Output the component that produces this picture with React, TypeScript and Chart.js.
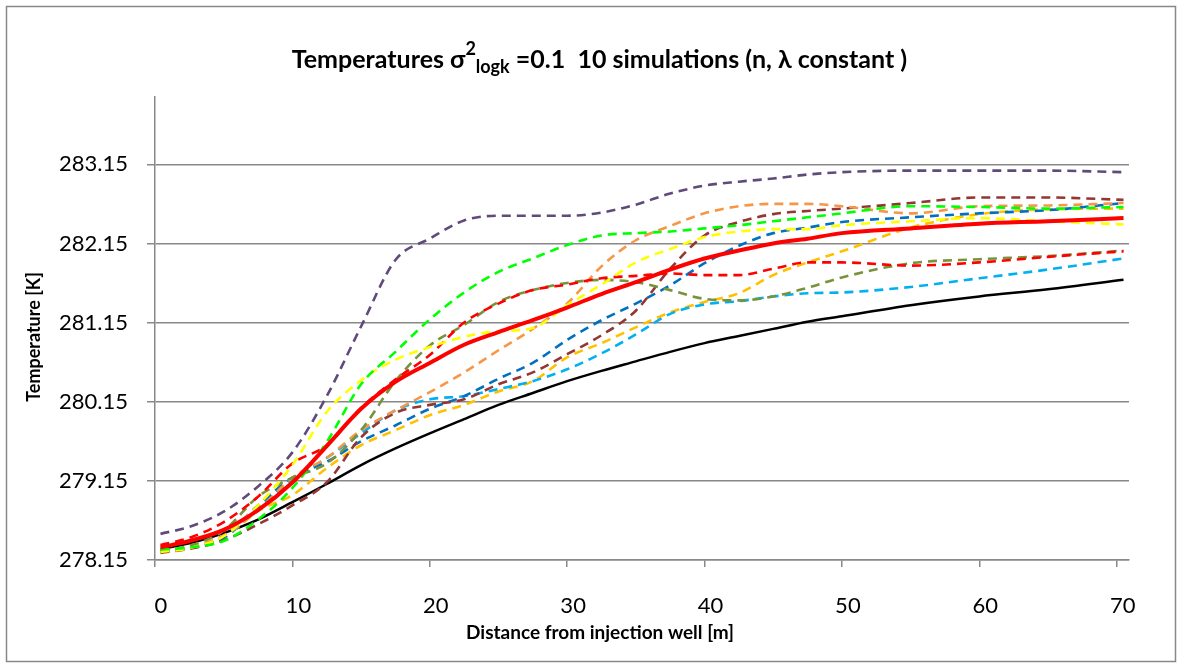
import React, { useEffect, useRef } from "react";
import { Chart, registerables } from "chart.js";

Chart.register(...registerables);

const xValues = [0.4, 2.5, 5, 7.5, 10, 12.5, 15, 17.5, 20, 22.5, 25, 27.5, 30, 32.5, 35, 37.5, 40, 42.5, 45, 47.5, 50, 55, 60, 65, 70.5];

const simPurple = [278.48, 278.57, 278.76, 279.08, 279.51, 280.22, 281.1, 281.94, 282.21, 282.44, 282.5, 282.5, 282.5, 282.54, 282.64, 282.78, 282.88, 282.93, 282.97, 283.02, 283.05, 283.07, 283.07, 283.07, 283.05];
const simGreen = [278.28, 278.31, 278.39, 278.66, 279.06, 279.64, 280.37, 280.78, 281.19, 281.53, 281.79, 281.96, 282.13, 282.25, 282.28, 282.3, 282.34, 282.38, 282.43, 282.48, 282.53, 282.62, 282.61, 282.59, 282.61];
const simYellow = [278.25, 278.3, 278.45, 278.84, 279.35, 280.02, 280.42, 280.68, 280.84, 280.97, 281.04, 281.08, 281.37, 281.63, 281.91, 282.08, 282.23, 282.3, 282.33, 282.33, 282.38, 282.43, 282.47, 282.43, 282.39];
const simRed = [278.34, 278.43, 278.63, 278.95, 279.37, 279.6, 280.07, 280.43, 280.74, 281.15, 281.39, 281.56, 281.63, 281.71, 281.74, 281.77, 281.75, 281.75, 281.83, 281.91, 281.91, 281.87, 281.91, 281.98, 282.05];
const simOlive = [278.26, 278.33, 278.52, 278.95, 279.19, 279.37, 279.79, 280.41, 280.86, 281.12, 281.41, 281.56, 281.65, 281.69, 281.66, 281.56, 281.45, 281.43, 281.48, 281.59, 281.72, 281.9, 281.95, 281.99, 282.06];
const simOrange = [278.26, 278.31, 278.46, 278.78, 279.19, 279.44, 279.79, 280.04, 280.27, 280.52, 280.8, 281.07, 281.39, 281.86, 282.19, 282.37, 282.53, 282.62, 282.65, 282.65, 282.62, 282.53, 282.62, 282.63, 282.66];
const simBrown = [278.24, 278.29, 278.4, 278.6, 278.84, 279.13, 279.7, 280.01, 280.11, 280.18, 280.37, 280.52, 280.75, 280.99, 281.3, 281.83, 282.25, 282.42, 282.52, 282.56, 282.59, 282.66, 282.73, 282.73, 282.7];
const simBlue = [278.25, 278.3, 278.44, 278.84, 279.19, 279.39, 279.65, 279.85, 280.06, 280.22, 280.44, 280.64, 280.93, 281.18, 281.39, 281.62, 281.9, 282.12, 282.28, 282.35, 282.42, 282.48, 282.53, 282.57, 282.66];
const simLightBlue = [278.28, 278.3, 278.43, 278.81, 279.16, 279.44, 279.75, 280.04, 280.18, 280.22, 280.31, 280.41, 280.56, 280.76, 281.0, 281.26, 281.38, 281.42, 281.48, 281.52, 281.53, 281.6, 281.71, 281.82, 281.96];
const simGold = [278.26, 278.31, 278.43, 278.77, 278.97, 279.31, 279.6, 279.79, 279.98, 280.11, 280.28, 280.41, 280.71, 280.89, 281.09, 281.28, 281.41, 281.52, 281.75, 281.91, 282.05, 282.35, 282.52, 282.58, 282.59];
const meanSeries = [278.31, 278.39, 278.53, 278.78, 279.13, 279.59, 280.06, 280.4, 280.64, 280.87, 281.03, 281.18, 281.34, 281.51, 281.66, 281.82, 281.96, 282.06, 282.15, 282.21, 282.28, 282.34, 282.4, 282.43, 282.47];
const homogeneousSeries = [278.29, 278.36, 278.49, 278.66, 278.88, 279.11, 279.35, 279.56, 279.75, 279.93, 280.11, 280.26, 280.41, 280.54, 280.66, 280.78, 280.89, 280.98, 281.07, 281.16, 281.23, 281.37, 281.48, 281.57, 281.69];

const xTicks = [0, 10, 20, 30, 40, 50, 60, 70];
const yTicks = [278.15, 279.15, 280.15, 281.15, 282.15, 283.15];

const FONT = "Lato, 'Open Sans', sans-serif";
const GRID = "#888888";

const toPoints = (arr: number[]) => xValues.map((x, i) => ({ x, y: arr[i] }));

const dashed = (label: string, arr: number[], color: string) => ({
  label,
  data: toPoints(arr),
  borderColor: color,
  backgroundColor: color,
  borderWidth: 2.6,
  borderDash: [9, 6],
  pointRadius: 0,
  cubicInterpolationMode: "monotone" as const,
  fill: false,
});

const framePlugin = {
  id: "frame",
  beforeDraw(chart: any) {
    const ctx = chart.ctx;
    ctx.save();
    ctx.fillStyle = "#ffffff";
    ctx.fillRect(0, 0, chart.width, chart.height);
    ctx.strokeStyle = GRID;
    ctx.lineWidth = 1.5;
    ctx.strokeRect(6.5, 6.5, 1169, 655);
    ctx.restore();
  },
};

const textPlugin = {
  id: "texts",
  afterDraw(chart: any) {
    const ctx = chart.ctx;
    ctx.save();
    ctx.fillStyle = "#000";
    ctx.textBaseline = "alphabetic";
    ctx.textAlign = "left";
    const big = `bold 25px ${FONT}`;
    const small = `bold 18px ${FONT}`;
    const p1 = "Temperatures σ";
    const p2 = "2";
    const p3 = "logk";
    const p4 = " =0.1  10 simulations (n, λ constant )";
    ctx.font = big;
    const w1 = ctx.measureText(p1).width;
    const w4 = ctx.measureText(p4).width;
    ctx.font = small;
    const w2 = ctx.measureText(p2).width;
    const w3 = ctx.measureText(p3).width;
    const total = w1 + w2 + w3 + w4;
    let x = 599.5 - total / 2;
    ctx.font = big;
    ctx.fillText(p1, x, 68);
    x += w1;
    ctx.font = small;
    ctx.fillText(p2, x, 55);
    x += w2;
    ctx.fillText(p3, x, 73);
    x += w3;
    ctx.font = big;
    ctx.fillText(p4, x, 68);

    ctx.textAlign = "center";
    ctx.textBaseline = "middle";
    ctx.font = `bold 19px ${FONT}`;
    ctx.fillText("Distance from injection well [m]", 600, 633);
    ctx.font = `bold 18px ${FONT}`;
    ctx.translate(34, 337);
    ctx.rotate(-Math.PI / 2);
    ctx.fillText("Temperature [K]", 0, 0);
    ctx.restore();
  },
};

export default function App() {
  const ref = useRef<HTMLCanvasElement | null>(null);
  useEffect(() => {
    if (!ref.current) return;
    const chart = new Chart(ref.current, {
      type: "line",
      data: {
        datasets: [
          {
            label: "Mean",
            data: toPoints(meanSeries),
            borderColor: "#FF0000",
            backgroundColor: "#FF0000",
            borderWidth: 4,
            pointRadius: 0,
            cubicInterpolationMode: "monotone",
            fill: false,
          },
          dashed("Sim 1", simPurple, "#604A7B"),
          dashed("Sim 2", simGreen, "#00FF00"),
          dashed("Sim 3", simYellow, "#FFFF00"),
          dashed("Sim 4", simRed, "#FF0000"),
          dashed("Sim 5", simOlive, "#77933C"),
          dashed("Sim 6", simOrange, "#F79646"),
          dashed("Sim 7", simBrown, "#943634"),
          dashed("Sim 8", simBlue, "#0070C0"),
          dashed("Sim 9", simLightBlue, "#00B0F0"),
          dashed("Sim 10", simGold, "#FFC000"),
          {
            label: "Homogeneous",
            data: toPoints(homogeneousSeries),
            borderColor: "#000000",
            backgroundColor: "#000000",
            borderWidth: 2.5,
            pointRadius: 0,
            cubicInterpolationMode: "monotone",
            fill: false,
          },
        ] as any,
      },
      options: {
        responsive: false,
        animation: false,
        events: [],
        layout: { padding: { left: 0, right: 53, top: 97, bottom: 0 } },
        plugins: {
          legend: { display: false },
          title: { display: false },
          tooltip: { enabled: false },
        },
        scales: {
          x: {
            type: "linear",
            min: 0,
            max: 70.9,
            afterBuildTicks: (s: any) => {
              s.ticks = xTicks.map((v) => ({ value: v }));
            },
            afterFit: (s: any) => {
              s.height = 108;
            },
            grid: { drawOnChartArea: false, drawTicks: true, tickLength: 7, color: GRID, lineWidth: 1.5 },
            border: { display: true, color: GRID, width: 1.5 },
            ticks: {
              color: "#000",
              font: { family: FONT, size: 22 },
              padding: 26,
              labelOffset: 6,
              maxRotation: 0,
              autoSkip: false,
              callback: (v: any) => String(v),
            },
          },
          y: {
            type: "linear",
            min: 278.15,
            max: 284,
            afterBuildTicks: (s: any) => {
              s.ticks = yTicks.map((v) => ({ value: v }));
            },
            afterFit: (s: any) => {
              s.width = 155;
            },
            grid: { drawOnChartArea: true, drawTicks: true, tickLength: 8, color: GRID, lineWidth: 1.5 },
            border: { display: true, color: GRID, width: 1.5 },
            ticks: {
              color: "#000",
              font: { family: FONT, size: 22 },
              padding: 19,
              autoSkip: false,
              callback: (v: any) => Number(v).toFixed(2),
            },
          },
        },
      } as any,
      plugins: [framePlugin, textPlugin],
    });
    return () => chart.destroy();
  }, []);
  return (
    <div style={{ position: "absolute", left: 0, top: 0, width: 1182, height: 668 }}>
      <canvas ref={ref} width={1182} height={668} />
    </div>
  );
}
